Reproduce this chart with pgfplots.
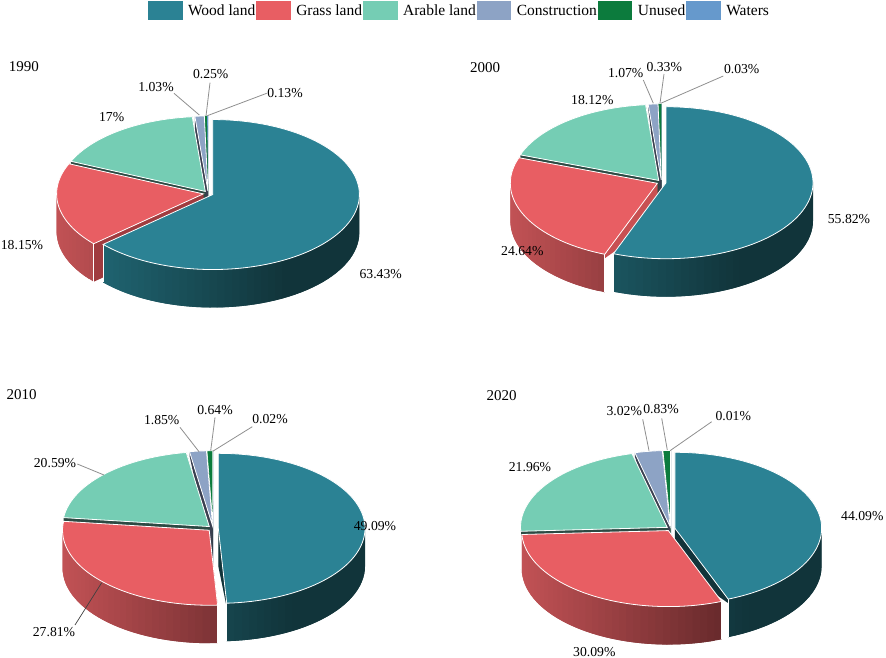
\documentclass[border=0pt]{standalone}
\usepackage{fontspec}
\setmainfont{Liberation Serif}
\usepackage{pgfplots}
\usepackage{pgfplotstable}
\pgfplotsset{compat=1.18}

% top colours, wall colours (light/dark), cut face colours, by row
\definecolor{pc0}{HTML}{2B8294}\definecolor{wl0}{HTML}{226D7B}\definecolor{wd0}{HTML}{11343A}\definecolor{fc0}{HTML}{12343A}
\definecolor{pc1}{HTML}{E85E63}\definecolor{wl1}{HTML}{C25255}\definecolor{wd1}{HTML}{5F2628}\definecolor{fc1}{HTML}{A03B3F}
\definecolor{pc2}{HTML}{75CDB4}\definecolor{wl2}{HTML}{4F9A85}\definecolor{wd2}{HTML}{2C4A43}\definecolor{fc2}{HTML}{2C4A43}
\definecolor{pc3}{HTML}{8DA3C5}\definecolor{wl3}{HTML}{5F6E85}\definecolor{wd3}{HTML}{3A3F50}\definecolor{fc3}{HTML}{3A3F50}
\definecolor{pc4}{HTML}{0C7B3D}\definecolor{wl4}{HTML}{0A5A2E}\definecolor{wd4}{HTML}{0A4A28}\definecolor{fc4}{HTML}{0A4A28}
\definecolor{pc5}{HTML}{6699CC}\definecolor{wl5}{HTML}{4A6F94}\definecolor{wd5}{HTML}{334D66}\definecolor{fc5}{HTML}{334D66}
\definecolor{fc1b}{HTML}{C85052}
\definecolor{leader}{HTML}{8F8F8F}

\tikzset{
    lab/.style={font=\fontsize{13.7}{16}\selectfont, inner sep=0pt},
    yr/.style={font=\fontsize{15}{18}\selectfont, inner sep=0pt},
}

\pgfplotstableread{
cover share
wood 63.43
grass 18.15
arable 17
construction 1.03
unused 0.25
waters 0.13
}\tabA
\pgfplotstableread{
cover share
wood 55.82
grass 24.64
arable 18.12
construction 1.07
unused 0.33
waters 0.03
}\tabB
\pgfplotstableread{
cover share
wood 49.09
grass 27.81
arable 20.59
construction 1.85
unused 0.64
waters 0.02
}\tabC
\pgfplotstableread{
cover share
wood 44.09
grass 30.09
arable 21.96
construction 3.02
unused 0.83
waters 0.01
}\tabD

\newcount\kk

% start and end angle of a row, clockwise from the top
\newcommand\wedgeangles[2]{%
  \pgfplotstablegetelem{#2}{share}\of{#1}%
  \expandafter\xdef\csname sh#2\endcsname{\pgfplotsretval}%
  \expandafter\xdef\csname as#2\endcsname{\cum}%
  \pgfmathsetmacro\nxt{\cum-\pgfplotsretval*3.6}%
  \xdef\cum{\nxt}%
  \expandafter\xdef\csname ae#2\endcsname{\cum}%
}

% cut face below one radial edge
\newcommand\radial[2]{%
  \pgfmathsetmacro\px{\ax+\rx*cos(#1)}%
  \pgfmathsetmacro\py{\ay-\ry*sin(#1)}%
  \pgfmathsetmacro\pyd{\py+\rimd}%
  \pgfmathsetmacro\ayd{\ay+\dep}%
  \edef\tmp{\noexpand\addplot[forget plot,draw=none,fill=#2] coordinates {(\ax,\ay)(\px,\py)(\px,\pyd)(\ax,\ayd)} -- cycle;}\tmp
}

\newcommand\wallend[1]{%
  \pgfmathsetmacro\px{\ax+\rx*cos(#1)}%
  \pgfmathsetmacro\py{\ay-\ry*sin(#1)}%
  \pgfmathsetmacro\pyd{\py+\dep}%
  \edef\tmp{\noexpand\addplot[forget plot,draw=white,line width=.7pt] coordinates {(\px,\py)(\px,\pyd)};}\tmp
}

\newcommand\drawwedge[1]{%
  \edef\wa{\csname as#1\endcsname}\edef\wb{\csname ae#1\endcsname}\edef\wsh{\csname sh#1\endcsname}%
  \pgfmathsetmacro\amid{(\wa+\wb)/2}%
  \pgfmathsetmacro\ax{\cx+\ex*\rx*cos(\amid)}%
  \pgfmathsetmacro\ay{\cy-\ex*\ry*sin(\amid)}%
  \ifnum#1=1 \edef\fcn{\redface}\else\edef\fcn{fc#1}\fi
  \radial{\wa}{\fcn}\radial{\wb}{\fcn}%
  % outer wall, only on the front half; each slice runs under the next one
  \pgfmathsetmacro\hi{min(\wa,0)}%
  \pgfmathsetmacro\lo{max(\wb,-180)}%
  \pgfmathtruncatemacro\hasw{\hi>\lo ? 1 : 0}%
  \ifnum\hasw=1
    \pgfmathtruncatemacro\n{ceil((\hi-\lo)/3)}%
    \pgfmathsetmacro\st{(\hi-\lo)/\n}%
    \kk=1
    \loop
      \pgfmathsetmacro\ta{\hi-(\the\kk-1)*\st}%
      \pgfmathsetmacro\tb{max(\hi-(\the\kk+1)*\st,\lo)}%
      \pgfmathsetmacro\xa{\ax+\rx*cos(\ta)}%
      \pgfmathsetmacro\xb{\ax+\rx*cos(\tb)}%
      \pgfmathsetmacro\ya{\ay-\ry*sin(\ta)}%
      \pgfmathsetmacro\yb{\ay-\ry*sin(\tb)}%
      \pgfmathsetmacro\yad{\ya+\dep}%
      \pgfmathsetmacro\ybd{\yb+\dep}%
      \pgfmathsetmacro\tm{\ta-\st/2}%
      \pgfmathsetmacro\xm{\ax+\rx*cos(\tm)}%
      \pgfmathsetmacro\pc{max(0,min(100,100*((\xm-(\ax-\rx))/(2*\rx))/0.75))}%
      \edef\tmp{\noexpand\addplot[forget plot,fill=wd#1!\pc!wl#1,draw=none] coordinates {(\xa,\ya)(\xb,\yb)(\xb,\ybd)(\xa,\yad)} -- cycle;}\tmp
      \advance\kk by 1
    \ifnum\kk>\n\relax\else\repeat
    \pgfmathtruncatemacro\endhi{\hi<0 ? 1 : 0}%
    \ifnum\endhi=1 \wallend{\hi}\fi
    \pgfmathtruncatemacro\endlo{\lo>-170 ? 1 : 0}%
    \ifnum\endlo=1 \wallend{\lo}\fi
  \fi
  % top
  \pgfmathtruncatemacro\n{max(1,ceil((\wa-\wb)/2.5))}%
  \pgfmathsetmacro\st{(\wa-\wb)/\n}%
  \edef\pts{(\ax,\ay)}%
  \kk=0
  \loop
    \pgfmathsetmacro\ta{\wa-\the\kk*\st}%
    \pgfmathsetmacro\xa{\ax+\rx*cos(\ta)}%
    \pgfmathsetmacro\ya{\ay-\ry*sin(\ta)}%
    \edef\pts{\pts(\xa,\ya)}%
    \advance\kk by 1
  \ifnum\kk>\n\relax\else\repeat
  \pgfmathtruncatemacro\big{\wsh>=0.5 ? 1 : 0}%
  \ifnum\big=1 \def\edgest{draw=white,line width=.8pt}\else\def\edgest{draw=none}\fi
  \edef\tmp{\noexpand\addplot[forget plot,fill=pc#1,\edgest] coordinates {\pts} -- cycle;}\tmp
}

% table, cx, cy, rx, ry, explosion, depth, rim depth of cut faces, red face colour
\newcommand\drawpie[9]{%
  \def\cx{#2}\def\cy{#3}\def\rx{#4}\def\ry{#5}\def\ex{#6}\def\dep{#7}\def\rimd{#8}\def\redface{#9}%
  \xdef\cum{90}%
  \wedgeangles{#1}{0}\wedgeangles{#1}{1}\wedgeangles{#1}{2}\wedgeangles{#1}{3}\wedgeangles{#1}{4}\wedgeangles{#1}{5}%
  \drawwedge{5}\drawwedge{4}\drawwedge{3}\drawwedge{2}%
}

\newcommand\lead[4]{\addplot[forget plot,draw=leader,line width=.8pt] coordinates {(#1,#2)(#3,#4)};}

\begin{document}
\begin{tikzpicture}
\begin{axis}[
    scale only axis,
    width=886pt,
    height=658pt,
    xmin=0, xmax=886,
    ymin=0, ymax=658,
    y dir=reverse,
    hide axis,
    clip=false,
    legend columns=6,
    legend style={
        at={(axis cs:458.5,11)}, anchor=center,
        draw=none, fill=none, inner sep=0pt, outer sep=0pt,
        font=\fontsize{15.5}{18}\selectfont,
        /tikz/every even column/.append style={column sep=1pt},
        nodes={inner sep=0pt, outer sep=0pt},
    },
    legend cell align=left,
    legend image code/.code={\fill[#1,draw=none] (0pt,-9.5pt) rectangle (34.5pt,9.5pt);},
]
\addlegendimage{fill=pc0}\addlegendentry{\hspace{5.5pt}Wood land}
\addlegendimage{fill=pc1}\addlegendentry{\hspace{5.5pt}Grass land}
\addlegendimage{fill=pc2}\addlegendentry{\hspace{5.5pt}Arable land}
\addlegendimage{fill=pc3}\addlegendentry{\hspace{5.5pt}Construction}
\addlegendimage{fill=pc4}\addlegendentry{\hspace{5.5pt}Unused}
\addlegendimage{fill=pc5}\addlegendentry{\hspace{5.5pt}Waters}

\path (axis cs:0,0) rectangle (axis cs:886,658);

% 1990
\drawpie{\tabA}{208.2}{193.5}{146.7}{75}{0.0338}{38}{38}{fc1}
\drawwedge{1}\drawwedge{0}
% 2000
\drawpie{\tabB}{661.5}{182.3}{147}{76}{0.0313}{38}{4}{fc1b}
\drawwedge{1}\drawwedge{0}
% 2010
\drawpie{\tabC}{213.06}{528.4}{146.7}{75}{0.0359}{38}{4}{fc1}
\drawwedge{0}\drawwedge{1}
% 2020
\drawpie{\tabD}{670.7}{528.7}{146.7}{76}{0.0295}{38}{4}{fc1}
\drawwedge{0}\drawwedge{1}

% leader lines
\lead{174}{93.3}{199.3}{115}
\lead{210}{82.7}{206}{116}
\lead{266.7}{93.3}{207.3}{115.7}
\lead{643.3}{80}{653.3}{103.3}
\lead{664}{74}{660}{103.3}
\lead{723.3}{76}{660.7}{103.3}
\lead{180}{427.3}{199}{451.7}
\lead{215}{417.3}{210.7}{450.7}
\lead{252.3}{426.7}{212.7}{451.3}
\lead{77.3}{464}{104}{475}
\addplot[forget plot,draw=black!75,line width=.7pt] coordinates {(75,625)(101.7,582.7)};
\lead{642.7}{419.3}{649}{450.7}
\lead{661.7}{418.3}{667.3}{450}
\lead{711.7}{421.7}{670}{450.7}

% labels
\node[yr] at (axis cs:24,66.7) {1990};
\node[lab] at (axis cs:210.7,74) {0.25\%};
\node[lab] at (axis cs:285,93.3) {0.13\%};
\node[lab] at (axis cs:156,86.7) {1.03\%};
\node[lab] at (axis cs:111.7,116.7) {17\%};
\node[lab] at (axis cs:22,245) {18.15\%};
\node[lab] at (axis cs:380.7,274) {63.43\%};

\node[yr] at (axis cs:485,67.3) {2000};
\node[lab] at (axis cs:625.7,72.7) {1.07\%};
\node[lab] at (axis cs:664.3,66.7) {0.33\%};
\node[lab] at (axis cs:741.7,69.3) {0.03\%};
\node[lab] at (axis cs:592.3,100) {18.12\%};
\node[lab] at (axis cs:522.3,251) {24.64\%};
\node[lab] at (axis cs:849,219) {55.82\%};

\node[yr] at (axis cs:21.7,395) {2010};
\node[lab] at (axis cs:161.7,420) {1.85\%};
\node[lab] at (axis cs:215,410) {0.64\%};
\node[lab] at (axis cs:270,419.3) {0.02\%};
\node[lab] at (axis cs:55,463.3) {20.59\%};
\node[lab] at (axis cs:375,526) {49.09\%};
\node[lab] at (axis cs:54,631.7) {27.81\%};

\node[yr] at (axis cs:501.7,396) {2020};
\node[lab] at (axis cs:624.3,411) {3.02\%};
\node[lab] at (axis cs:661,409.3) {0.83\%};
\node[lab] at (axis cs:733.3,415.7) {0.01\%};
\node[lab] at (axis cs:530,467.3) {21.96\%};
\node[lab] at (axis cs:862.3,516) {44.09\%};
\node[lab] at (axis cs:594.3,651.7) {30.09\%};
\end{axis}
\end{tikzpicture}
\end{document}
